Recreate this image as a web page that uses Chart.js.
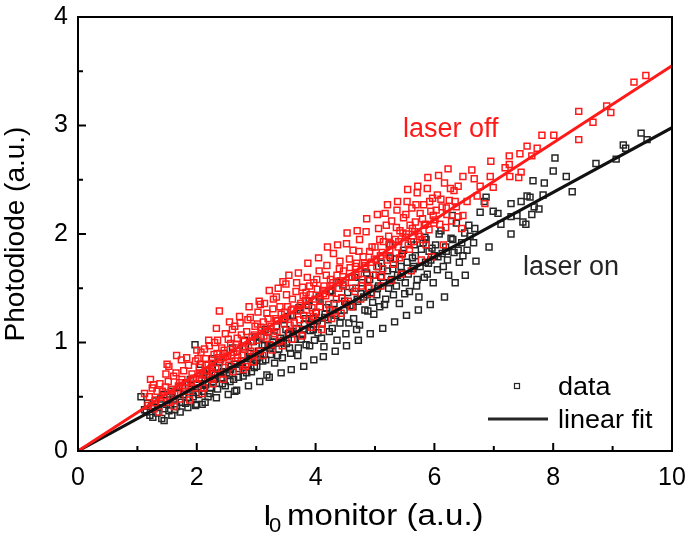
<!DOCTYPE html>
<html>
<head>
<meta charset="utf-8">
<script src="https://cdn.jsdelivr.net/npm/chart.js@4"></script>
<style>
  body { margin: 0; background: #fff; }
  #wrap { width: 688px; height: 537px; }
</style>
</head>
<body>
<div id="wrap"><canvas id="chart"></canvas></div>
<script>
// laser off data points (red)
var laserOffPoints = [
  [1.12,0.53],[1.18,0.42],[1.22,0.66],[1.25,0.58],[1.28,0.39],[1.31,0.47],[1.36,0.36],[1.38,0.62],[1.42,0.55],[1.45,0.51],
  [1.48,0.71],[1.52,0.64],[1.55,0.45],[1.58,0.57],[1.61,0.69],[1.63,0.52],[1.66,0.88],[1.69,0.60],[1.72,0.48],[1.75,0.66],
  [1.78,0.74],[1.81,0.58],[1.84,0.63],[1.86,0.79],[1.89,0.55],[1.92,0.71],[1.95,0.67],[1.98,0.83],
  [2.01,0.62],[2.04,0.77],[2.07,0.91],[2.10,0.70],[2.12,0.58],[2.15,0.85],[2.18,0.74],[2.21,0.97],[2.24,0.66],[2.26,0.81],
  [2.29,0.89],[2.32,0.76],[2.35,1.02],[2.38,1.29],[2.40,0.84],[2.43,0.71],[2.46,0.93],[2.48,1.08],[2.51,0.87],[2.54,0.79],
  [2.57,0.99],[2.60,1.12],[2.62,0.91],[2.65,0.83],[2.68,1.04],[2.70,0.95],[2.73,1.18],[2.76,0.88],[2.79,1.01],[2.82,0.78],
  [2.84,1.10],[2.87,0.97],[2.90,1.23],[2.93,1.05],[2.96,0.89],[2.98,1.15],
  [3.01,1.02],[3.03,1.28],[3.06,0.92],[3.09,1.11],[3.12,1.19],[3.14,1.36],[3.17,1.04],[3.20,1.22],[3.23,0.98],[3.25,1.15],
  [3.28,1.31],[3.31,1.08],[3.34,1.42],[3.36,1.20],[3.39,1.01],[3.42,1.26],[3.45,1.56],[3.47,1.17],[3.50,1.54],[3.53,1.33],
  [3.56,1.09],[3.58,1.24],[3.61,1.40],[3.64,1.18],[3.67,1.47],[3.69,1.29],[3.72,1.12],[3.75,1.36],[3.78,1.51],[3.80,1.25],
  [3.83,1.39],[3.86,1.60],[3.89,1.21],[3.91,1.44],[3.94,1.32],[3.97,1.55],
  [4.00,1.27],[4.03,1.49],[4.06,1.66],[4.08,1.38],[4.11,1.18],[4.14,1.52],[4.17,1.43],[4.19,1.71],[4.22,1.35],[4.25,1.58],
  [4.28,1.46],[4.30,1.82],[4.33,1.29],[4.36,1.62],[4.39,1.50],[4.41,1.75],[4.44,1.41],[4.47,1.66],[4.50,1.55],[4.52,1.91],
  [4.55,1.38],[4.58,1.69],[4.61,1.60],[4.63,1.85],[4.66,1.47],[4.69,1.73],[4.72,1.63],[4.74,1.95],[4.77,1.52],[4.80,1.79],
  [4.83,1.68],[4.85,2.02],[4.88,1.57],[4.91,1.84],[4.94,1.74],[4.97,1.62],
  [5.00,1.88],[5.03,1.70],[5.06,2.05],[5.09,1.80],[5.11,1.61],[5.14,1.93],[5.17,2.19],[5.20,1.76],[5.23,1.98],[5.25,1.85],
  [5.28,2.12],[5.31,1.72],[5.34,1.95],[5.37,2.22],[5.39,1.88],[5.42,2.03],[5.45,1.81],[5.48,2.15],[5.51,1.97],[5.54,2.30],
  [5.56,1.90],[5.59,2.08],[5.62,2.24],[5.65,1.93],[5.68,2.11],[5.71,2.38],[5.73,2.00],[5.76,2.19],[5.79,1.95],[5.82,2.27],
  [5.85,2.09],[5.88,2.42],[5.91,2.04],[5.94,2.21],[5.97,2.33],[5.98,2.17],
  [6.01,2.13],[6.05,2.36],[6.09,2.09],[6.13,2.25],[6.17,2.47],[6.21,2.18],[6.25,2.31],[6.29,2.12],[6.33,2.40],[6.37,2.25],
  [6.40,2.44],[6.40,2.16],[6.46,2.05],[6.48,2.17],[6.48,2.53],[6.55,2.30],[6.63,2.59],[6.67,2.51],[6.72,2.35],[6.77,2.44],
  [6.85,2.28],[6.94,2.53],[6.95,2.67],[6.99,2.43],[7.19,2.61],[7.26,2.72],[7.26,2.64],[7.27,2.53],[7.42,2.52],[7.44,2.74],
  [7.46,2.57],[7.56,2.81],[7.64,2.72],[7.73,2.79],[7.81,2.91],[8.01,2.91],[8.43,2.87],[8.43,3.13],[8.67,3.03],[8.90,3.18],
  [8.97,3.12],[9.36,3.40],[9.56,3.46],
  [1.20,0.50],[1.27,0.61],[1.33,0.55],[1.40,0.44],[1.47,0.59],[1.53,0.78],[1.59,0.50],[1.65,0.72],[1.71,0.63],[1.77,0.55],
  [1.83,0.86],[1.90,0.65],[1.96,0.58],
  [2.02,0.85],[2.08,0.66],[2.13,0.94],[2.19,0.80],[2.25,0.73],[2.30,1.00],[2.36,0.86],[2.42,0.95],[2.47,0.77],[2.53,1.03],
  [2.58,0.88],[2.64,1.15],[2.69,0.86],[2.75,1.07],[2.80,0.94],[2.86,1.21],[2.91,0.92],[2.97,1.07],
  [3.02,1.17],[3.07,1.35],[3.13,1.06],[3.18,1.27],[3.24,1.13],[3.29,1.40],[3.35,1.10],[3.40,1.33],[3.46,1.22],[3.51,1.44],
  [3.57,1.16],[3.62,1.31],[3.68,1.55],[3.73,1.21],[3.79,1.43],[3.85,1.30],[3.90,1.52],[3.96,1.24],
  [4.02,1.58],[4.07,1.33],[4.13,1.45],[4.18,1.62],[4.24,1.30],[4.29,1.55],[4.35,1.40],[4.40,1.68],[4.46,1.52],[4.51,1.36],
  [4.57,1.77],[4.62,1.50],[4.68,1.62],[4.73,1.84],[4.79,1.58],[4.84,1.71],[4.90,1.50],[4.95,1.88],
  [5.02,1.76],[5.08,1.95],[5.13,1.68],[5.19,2.08],[5.24,1.80],[5.30,1.90],[5.36,2.06],[5.41,1.78],[5.47,2.01],[5.52,2.18],
  [5.58,1.86],[5.63,2.05],[5.69,2.27],[5.75,1.98],[5.80,2.14],[5.86,1.90],[5.92,2.30],
  [6.03,2.22],[6.11,2.32],[6.19,2.06],[6.27,2.42],[6.35,2.30],
  [1.50,0.80],[1.62,0.41],[1.74,0.84],[1.88,0.47],[2.00,0.93],[2.09,0.53],[2.20,1.02],[2.27,0.62],[2.33,1.13],[2.44,0.66],
  [2.55,1.19],[2.61,0.73],[2.72,1.24],[2.78,0.75],[2.88,1.33],[2.95,0.82],[3.05,1.38],[3.11,0.88],[3.22,1.48],[3.27,0.93],
  [3.37,1.50],[3.44,0.97],[3.55,1.62],[3.60,1.03],[3.71,1.64],[3.77,1.06],[3.87,1.73],[3.93,1.14],[4.05,1.78],[4.10,1.12],
  [4.20,1.88],[4.27,1.22],[4.37,1.90],[4.43,1.27],[4.53,2.01],[4.60,1.33],[4.70,2.03],[4.76,1.40],[4.86,2.14],[4.93,1.45],
  [5.04,2.18],[5.10,1.52],[5.21,2.27],[5.27,1.57],[5.38,2.30],[5.44,1.63],[5.55,2.41],[5.61,1.66],[5.72,2.44],[5.78,1.76],
  [5.89,2.52],[5.95,1.79],[6.07,2.54],[6.15,1.90],[6.23,2.60],
  [2.05,0.72],[2.16,0.79],[2.34,0.90],[2.45,0.86],[2.66,0.98],[2.77,0.96],[2.93,1.01],[3.08,1.14],[3.19,1.10],[3.33,1.22],
  [3.48,1.28],[3.59,1.30],[3.74,1.34],[3.84,1.46],[3.99,1.40],[4.12,1.48],[4.26,1.52],[4.42,1.57],[4.56,1.60],[4.67,1.70],
  [4.82,1.73],[4.99,1.77],[5.12,1.83],[5.26,1.91],[5.40,1.93],[5.53,2.00],[5.67,2.02],[5.83,2.08],[5.99,2.10],[6.20,2.24]
];

// laser on data points (black)
var laserOnPoints = [
  [1.06,0.50],[1.12,0.38],[1.17,0.44],[1.21,0.33],[1.26,0.31],[1.30,0.46],[1.35,0.40],[1.41,0.30],[1.44,0.52],[1.49,0.43],
  [1.53,0.37],[1.57,0.55],[1.61,0.48],[1.66,0.41],[1.70,0.59],[1.74,0.45],[1.78,0.52],[1.83,0.63],[1.87,0.49],[1.91,0.57],
  [1.97,0.98],[1.99,0.54],
  [2.00,0.43],[2.04,0.66],[2.07,0.58],[2.09,0.43],[2.12,0.72],[2.15,0.61],[2.19,0.50],[2.22,0.53],[2.25,0.77],[2.28,0.64],
  [2.31,0.70],[2.35,0.57],[2.38,0.82],[2.41,0.67],[2.45,0.73],[2.48,0.60],[2.52,0.87],[2.55,0.71],[2.58,0.78],[2.62,0.66],
  [2.64,0.55],[2.68,0.92],[2.71,0.76],[2.75,0.83],[2.78,0.69],[2.82,0.96],[2.85,0.80],[2.88,0.87],[2.92,0.73],[2.95,1.01],
  [2.98,0.84],
  [3.01,0.78],[3.04,0.92],[3.08,1.05],[3.11,0.83],[3.14,0.97],[3.18,0.70],[3.21,1.10],[3.24,0.89],[3.28,1.00],[3.31,0.81],
  [3.34,1.15],[3.38,0.94],[3.41,1.04],[3.44,0.86],[3.48,1.21],[3.51,0.99],[3.54,1.08],[3.58,0.90],[3.61,1.25],[3.64,1.03],
  [3.68,1.13],[3.71,0.95],[3.74,1.30],[3.78,1.07],[3.81,1.17],[3.84,0.98],[3.88,1.34],[3.91,1.11],[3.94,1.22],[3.98,1.02],
  [4.01,1.28],[4.04,1.09],[4.08,1.40],[4.11,1.17],[4.14,0.96],[4.18,1.32],[4.21,1.21],[4.24,1.47],[4.28,1.13],[4.31,1.36],
  [4.34,1.25],[4.38,1.55],[4.41,1.18],[4.44,1.41],[4.48,1.30],[4.51,1.08],[4.54,1.46],[4.58,1.34],[4.61,1.60],[4.64,1.22],
  [4.68,1.50],[4.71,1.38],[4.74,1.16],[4.78,1.55],[4.81,1.42],[4.84,1.68],[4.88,1.29],[4.91,1.58],[4.94,1.46],[4.98,1.26],
  [5.01,1.62],[5.04,1.50],[5.08,1.33],[5.11,1.73],[5.14,1.55],[5.18,1.40],[5.21,1.66],[5.24,1.90],[5.28,1.58],[5.31,1.44],
  [5.34,1.77],[5.38,1.62],[5.41,1.36],[5.44,1.70],[5.48,1.85],[5.51,1.55],[5.54,1.74],[5.58,1.47],[5.61,1.93],[5.64,1.68],
  [5.68,1.80],[5.71,1.58],[5.74,1.42],[5.78,1.86],[5.81,1.92],[5.84,1.97],[5.88,1.63],[5.91,1.84],[5.94,1.76],[5.98,1.55],
  [6.02,1.90],[6.06,1.79],[6.11,2.03],[6.15,1.70],[6.19,1.88],[6.24,1.62],[6.28,1.96],[6.30,2.17],[6.33,1.83],[6.37,2.10],
  [6.42,1.74],[6.46,1.92],[6.51,2.01],[6.55,1.85],[6.60,1.98],[6.68,2.05],[6.77,2.20],[6.84,2.30],[6.87,2.34],[6.99,2.21],
  [7.07,2.19],[7.12,2.09],[7.29,2.00],[7.29,2.16],[7.29,2.28],[7.39,2.17],[7.46,2.30],[7.49,2.11],[7.54,2.09],[7.56,2.35],
  [7.61,2.34],[7.64,2.18],[7.66,2.49],[7.68,2.25],[7.76,2.23],[7.83,2.36],[7.85,2.47],[8.00,2.58],[8.03,2.70],[8.22,2.53],
  [8.32,2.39],[8.72,2.65],[9.06,2.69],[9.18,2.82],[9.22,2.79],[9.48,2.93],[9.58,2.87],
  [1.15,0.36],[1.24,0.42],[1.33,0.35],[1.39,0.48],[1.46,0.39],[1.55,0.47],[1.63,0.38],[1.68,0.53],[1.76,0.60],[1.81,0.44],
  [1.89,0.66],[1.94,0.50],
  [2.03,0.52],[2.10,0.62],[2.17,0.70],[2.23,0.58],[2.30,0.66],[2.36,0.76],[2.43,0.62],[2.50,0.72],[2.56,0.64],[2.63,0.80],
  [2.70,0.68],[2.77,0.78],[2.84,0.72],[2.90,0.90],[2.97,0.77],
  [3.03,0.86],[3.10,0.98],[3.16,0.84],[3.23,0.95],[3.30,1.06],[3.36,0.88],[3.43,1.00],[3.50,1.12],[3.56,0.95],[3.63,1.08],
  [3.70,0.88],[3.76,1.03],[3.83,1.22],[3.90,0.97],[3.96,1.12],
  [4.03,1.20],[4.10,1.04],[4.16,1.26],[4.23,1.10],[4.29,1.30],[4.36,1.02],[4.43,1.24],[4.49,1.38],[4.56,1.18],[4.63,1.33],
  [4.69,1.12],[4.76,1.45],[4.83,1.30],[4.89,1.50],[4.96,1.37],
  [5.03,1.44],[5.10,1.60],[5.16,1.35],[5.23,1.50],[5.30,1.68],[5.36,1.52],[5.43,1.60],[5.50,1.45],[5.56,1.63],[5.63,1.78],
  [5.70,1.52],[5.76,1.70],[5.83,1.60],[5.90,1.73],[5.96,1.87],
  [6.05,1.67],[6.13,1.82],[6.22,1.76],[6.31,1.95],[6.40,1.85],[6.48,1.80],[6.58,2.08],[6.66,1.92],
  [1.45,0.28],[1.58,0.33],[1.72,0.36],[1.85,0.40],[1.98,0.42],[2.06,0.80],[2.14,0.45],[2.26,0.85],[2.33,0.49],[2.46,0.90],
  [2.53,0.52],[2.60,0.95],[2.67,0.56],[2.80,1.02],[2.87,0.60],[2.99,1.05],[3.06,0.64],[3.15,1.12],[3.22,0.68],[3.35,1.20],
  [3.42,0.72],[3.53,1.24],[3.59,0.75],[3.72,1.32],[3.80,0.78],[3.89,1.38],[3.97,0.84],[4.06,1.42],[4.13,0.87],[4.26,1.48],
  [4.33,0.92],[4.46,1.53],[4.52,0.97],[4.66,1.60],[4.72,1.02],[4.86,1.64],[4.92,1.08],[5.06,1.70],[5.13,1.13],[5.26,1.78],
  [5.33,1.19],[5.46,1.82],[5.53,1.25],[5.66,1.90],[5.73,1.30],[5.86,1.95],[5.93,1.35],[6.08,2.00],[6.17,1.42],[6.35,1.55],
  [6.52,1.62],[6.70,1.75],[6.92,1.88],
  [2.11,0.55],[2.21,0.68],[2.39,0.72],[2.57,0.75],[2.74,0.80],[2.91,0.85],[3.07,0.90],[3.26,0.97],[3.46,1.02],[3.62,1.10],
  [3.79,1.12],[3.97,1.17],[4.15,1.23],[4.33,1.27],[4.52,1.35],[4.70,1.40],[4.87,1.44],[5.06,1.52],[5.25,1.55],[5.45,1.64],
  [5.65,1.70],[5.85,1.74],[6.00,1.80],[6.20,1.84]
];

// linear fit end points (fits go through the origin)
var fitX = [0, 10];
var fitOffY = [0, 3.55];
var fitOnY = [0, 2.98];

var xMajorTicks = [0, 2, 4, 6, 8, 10];
var xMinorTicks = [1, 3, 5, 7, 9];
var yMajorTicks = [0, 1, 2, 3, 4];
var yMinorTicks = [0.5, 1.5, 2.5, 3.5];

var RED = '#ff1a1a';
var BLACK = '#262626';
var FONT = '"Liberation Sans", Arial, sans-serif';

function toXY(arr) {
    return arr.map(function(p) { return { x: p[0], y: p[1] }; });
}

function fitLine(ys) {
    return fitX.map(function(x, i) { return { x: x, y: ys[i] }; });
}

function drawText(ctx, txt, x, y, size, color, sx) {
    ctx.save();
    ctx.translate(x, y);
    ctx.scale(sx || 1, 1);
    ctx.font = size + 'px ' + FONT;
    ctx.fillStyle = color;
    ctx.textBaseline = 'alphabetic';
    ctx.textAlign = 'left';
    ctx.fillText(txt, 0, 0);
    ctx.restore();
}

// frame, inward ticks, titles, labels and legend
var framePlugin = {
    id: 'frame',
    afterDraw: function(chart) {
        var ctx = chart.ctx;
        var a = chart.chartArea;
        var xs = chart.scales.x;
        var ys = chart.scales.y;
        ctx.save();
        ctx.strokeStyle = '#000';
        ctx.lineWidth = 2;
        ctx.strokeRect(a.left, a.top, a.right - a.left, a.bottom - a.top);

        ctx.beginPath();
        xMajorTicks.forEach(function(v) {
            var px = xs.getPixelForValue(v);
            ctx.moveTo(px, a.bottom); ctx.lineTo(px, a.bottom - 8);
        });
        xMinorTicks.forEach(function(v) {
            var px = xs.getPixelForValue(v);
            ctx.moveTo(px, a.bottom); ctx.lineTo(px, a.bottom - 5);
        });
        yMajorTicks.forEach(function(v) {
            var py = ys.getPixelForValue(v);
            ctx.moveTo(a.left, py); ctx.lineTo(a.left + 8, py);
        });
        yMinorTicks.forEach(function(v) {
            var py = ys.getPixelForValue(v);
            ctx.moveTo(a.left, py); ctx.lineTo(a.left + 5, py);
        });
        ctx.stroke();

        // y title
        ctx.save();
        ctx.translate(24, (a.top + a.bottom) / 2);
        ctx.rotate(-Math.PI / 2);
        ctx.font = '28px ' + FONT;
        ctx.fillStyle = '#000';
        ctx.textAlign = 'center';
        ctx.textBaseline = 'alphabetic';
        ctx.fillText('Photodiode (a.u.)', 0, 0);
        ctx.restore();

        // x title with subscript
        drawText(ctx, 'I', 263, 525, 29, '#000', 1.1);
        drawText(ctx, '0', 269, 532, 20, '#000', 1.1);
        drawText(ctx, 'monitor (a.u.)', 287, 525, 29, '#000', 1.14);

        // annotations
        drawText(ctx, 'laser off', 403, 137, 27, RED, 1.0);
        drawText(ctx, 'laser on', 523, 275, 27, BLACK, 1.0);

        // legend
        ctx.strokeStyle = BLACK;
        ctx.lineWidth = 1.2;
        ctx.strokeRect(514.5, 383.5, 5, 5);
        ctx.lineWidth = 2.8;
        ctx.beginPath();
        ctx.moveTo(488, 419); ctx.lineTo(548, 419);
        ctx.stroke();
        drawText(ctx, 'data', 558, 395, 25, '#000', 1.08);
        drawText(ctx, 'linear fit', 558, 428, 25, '#000', 1.08);
        ctx.restore();
    }
};

var chart = new Chart(document.getElementById('chart'), {
    type: 'scatter',
    data: {
        datasets: [{
            label: 'laser off fit',
            data: fitLine(fitOffY),
            showLine: true,
            borderColor: RED,
            borderWidth: 3,
            pointRadius: 0,
            order: 0
        }, {
            label: 'laser on fit',
            data: fitLine(fitOnY),
            showLine: true,
            borderColor: '#111',
            borderWidth: 3,
            pointRadius: 0,
            order: 1
        }, {
            label: 'laser off',
            data: toXY(laserOffPoints),
            pointStyle: 'rect',
            pointRadius: 4.2,
            borderWidth: 1.5,
            borderColor: RED,
            backgroundColor: 'rgba(0,0,0,0)',
            order: 2
        }, {
            label: 'laser on',
            data: toXY(laserOnPoints),
            pointStyle: 'rect',
            pointRadius: 4.2,
            borderWidth: 1.5,
            borderColor: BLACK,
            backgroundColor: 'rgba(0,0,0,0)',
            order: 3
        }]
    },
    options: {
        responsive: true,
        maintainAspectRatio: false,
        animation: false,
        layout: { padding: { top: 17, right: 16, left: 0, bottom: 0 } },
        plugins: {
            legend: { display: false },
            tooltip: { enabled: false }
        },
        scales: {
            x: {
                min: 0, max: 10,
                grid: { display: false, drawTicks: false },
                border: { display: false },
                ticks: {
                    stepSize: 2,
                    padding: 12,
                    color: '#000',
                    maxRotation: 0,
                    font: { size: 25, family: FONT }
                },
                afterFit: function(s) {
                    s.height = 86;
                    s.paddingLeft = 0;
                    s.paddingRight = 0;
                }
            },
            y: {
                min: 0, max: 4,
                grid: { display: false, drawTicks: false },
                border: { display: false },
                ticks: {
                    stepSize: 1,
                    padding: 10,
                    color: '#000',
                    font: { size: 25, family: FONT }
                },
                afterFit: function(s) {
                    s.width = 78;
                    s.paddingTop = 0;
                    s.paddingBottom = 0;
                }
            }
        }
    },
    plugins: [framePlugin]
});
</script>
</body>
</html>
